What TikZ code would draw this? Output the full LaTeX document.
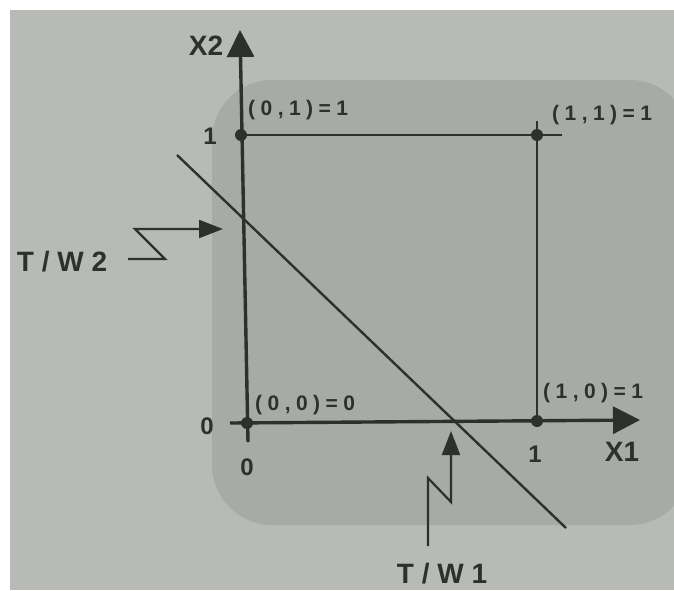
\documentclass[tikz,border=0pt]{standalone}
\usepackage{fontspec}
\setmainfont{Liberation Sans}
\newfontfamily\ptfont{Liberation Sans}[LetterSpace=26]
\usetikzlibrary{arrows.meta}
\definecolor{paper}{HTML}{B8BBB5}
\definecolor{darkpaper}{HTML}{A8ABA5}
\definecolor{ink}{HTML}{2E302D}
\tikzset{
  axis/.style={draw=ink, line width=3.4pt, -{Triangle[length=27pt,width=27pt]}},
  edge/.style={draw=ink, line width=2.4pt},
  pointer/.style={draw=ink, line width=2.2pt, line join=miter, -{Triangle[length=24pt,width=18pt]}},
  dot/.style={circle, fill=ink, inner sep=0pt, minimum size=12pt},
  big/.style={text=ink, inner sep=0pt, font=\bfseries\fontsize{28}{28}\selectfont},
  tick/.style={text=ink, inner sep=0pt, font=\bfseries\fontsize{24}{24}\selectfont},
  pt/.style={text=ink, inner sep=0pt, anchor=west, font=\ptfont\bfseries\fontsize{21}{21}\selectfont}
}
\begin{document}
\begin{tikzpicture}[x=1pt,y=-1pt]
\useasboundingbox (0,0) rectangle (674,590);
\fill[white] (0,0) rectangle (674,590);
\fill[paper] (10,10) rectangle (674,590);
\fill[darkpaper, rounded corners=60pt] (212,80) rectangle (690,525);
% coordinates
\coordinate (O) at (247,423);
\coordinate (A) at (241,135);
\coordinate (B) at (537,135);
\coordinate (C) at (537,421);
\coordinate (ybot) at (248,442);
\coordinate (ytop) at (240,30);
\coordinate (xleft) at (230,423);
\coordinate (xright) at (640,420);
\coordinate (Bright) at (562,135);
\coordinate (Btop) at (537,121);
\coordinate (L1) at (177,155);
\coordinate (L2) at (566,528);
% axes
\draw[axis] (ybot) -- (ytop);
\draw[axis] (xleft) -- (xright);
% square
\draw[edge] (A) -- (Bright);
\draw[edge] (Btop) -- (C);
% decision line
\draw[edge] (L1) -- (L2);
% dots
\node[dot] (dO) at (O) {};
\node[dot] (dA) at (A) {};
\node[dot] (dB) at (B) {};
\node[dot] (dC) at (C) {};
% pointers
\coordinate (w2a) at (128,259);
\coordinate (w2b) at (165,259);
\coordinate (w2c) at (135,229);
\coordinate (w2d) at (223,229);
\draw[pointer] (w2a) -- (w2b) -- (w2c) -- (w2d);
\coordinate (w1a) at (428,546);
\coordinate (w1b) at (428,478);
\coordinate (w1c) at (451,502);
\coordinate (w1d) at (451,431);
\draw[pointer] (w1a) -- (w1b) -- (w1c) -- (w1d);
% labels
\node[big] (X2) at (206,46) {X2};
\node[big] (X1) at (622,452) {X1};
\node[big] (TW2) at (62,262) {T / W 2};
\node[big] (TW1) at (442,574) {T / W 1};
\node[tick] (t1y) at (210,136) {1};
\node[tick] (t0y) at (207,426) {0};
\node[tick] (t0x) at (247,467) {0};
\node[tick] (t1x) at (535,454) {1};
\node[pt] (lA) at (248,110) {(0,1)=1};
\node[pt] (lB) at (552,115) {(1,1)=1};
\node[pt] (lO) at (255,405) {(0,0)=0};
\node[pt] (lC) at (543,393) {(1,0)=1};
\end{tikzpicture}
\end{document}
